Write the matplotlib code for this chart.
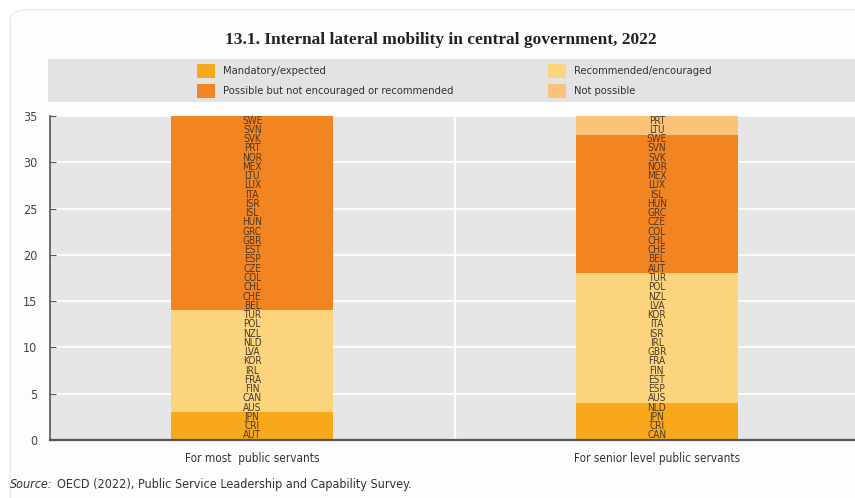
import matplotlib.pyplot as plt
from matplotlib.patches import Rectangle, FancyBboxPatch

NARROW = ["DejaVu Sans"]

groups = ["For most  public servants", "For senior level public servants"]
categories = [
    "Mandatory/expected",
    "Recommended/encouraged",
    "Possible but not encouraged or recommended",
    "Not possible",
]
colors = ["#F7A81B", "#FDD47E", "#F28522", "#FBC27A"]

# countries in each category, bottom to top
most_mandatory = ["AUT", "CRI", "JPN"]
most_recommended = ["AUS", "CAN", "FIN", "FRA", "IRL", "KOR", "LVA", "NLD", "NZL", "POL", "TUR"]
most_possible = ["BEL", "CHE", "CHL", "COL", "CZE", "ESP", "EST", "GBR", "GRC", "HUN", "ISL",
                 "ISR", "ITA", "LUX", "LTU", "MEX", "NOR", "PRT", "SVK", "SVN", "SWE"]
most_not_possible = []

senior_mandatory = ["CAN", "CRI", "JPN", "NLD"]
senior_recommended = ["AUS", "ESP", "EST", "FIN", "FRA", "GBR", "IRL", "ISR", "ITA", "KOR",
                      "LVA", "NZL", "POL", "TUR"]
senior_possible = ["AUT", "BEL", "CHE", "CHL", "COL", "CZE", "GRC", "HUN", "ISL", "LUX",
                   "MEX", "NOR", "SVK", "SVN", "SWE"]
senior_not_possible = ["LTU", "PRT"]

stacks = [
    [most_mandatory, most_recommended, most_possible, most_not_possible],
    [senior_mandatory, senior_recommended, senior_possible, senior_not_possible],
]

fig = plt.figure(figsize=(8.55, 4.98), dpi=100)
fig.patch.set_facecolor("white")

# faint outer frame
frame = FancyBboxPatch((0.012, -0.05), 1.05, 1.03, boxstyle="round,pad=0,rounding_size=0.02",
                       transform=fig.transFigure, facecolor="#fdfdfd", edgecolor="#ececec",
                       linewidth=1.0, zorder=-10)
fig.patches.append(frame)

ax = fig.add_axes([0.0585, 0.1165, 0.9415, 0.6505])
ax.set_facecolor("#E6E6E6")

for gi, stack in enumerate(stacks):
    bottom = 0
    for ci, countries in enumerate(stack):
        n = len(countries)
        if n:
            ax.bar(gi, n, width=0.4, bottom=bottom, color=colors[ci], zorder=2)
            for k, code in enumerate(countries):
                ax.text(gi, bottom + k + 0.5, code, ha="center", va="center",
                        fontsize=7.2, family=NARROW, stretch="condensed",
                        color="#4a3a28", zorder=3)
        bottom += n

ax.set_xlim(-0.5, 1.49)
ax.set_ylim(0, 35)
ax.set_yticks(range(0, 36, 5))
ax.set_xticks([0, 1])
ax.set_xticklabels(groups, family=NARROW, stretch="condensed", fontsize=8.5, color="#333333")
for lab in ax.get_yticklabels():
    lab.set_family(NARROW)
    lab.set_stretch("condensed")
    lab.set_fontsize(9)
    lab.set_color("#444444")
ax.tick_params(axis="y", direction="in", length=4, color="#555555", pad=9)
ax.tick_params(axis="x", length=0, pad=9)
ax.grid(axis="y", color="white", linewidth=1.2, zorder=1)
ax.axvline(0.5, color="white", linewidth=1.5, zorder=1)
ax.set_axisbelow(True)
for side in ["top", "right"]:
    ax.spines[side].set_visible(False)
ax.spines["left"].set_color("#555555")
ax.spines["left"].set_linewidth(1.2)
ax.spines["bottom"].set_color("#555555")
ax.spines["bottom"].set_linewidth(1.6)
ax.spines["bottom"].set_zorder(4)

# legend band
band = Rectangle((48 / 855, 1 - 102 / 498), 1 - 48 / 855, 43 / 498,
                 transform=fig.transFigure, facecolor="#E3E3E3", edgecolor="none")
fig.patches.append(band)
legend_pos = [(197, 71), (548, 71), (197, 91), (548, 91)]
for (px, py), label, c in zip(legend_pos, categories, colors):
    fig.patches.append(Rectangle((px / 855, 1 - (py + 7) / 498), 18 / 855, 14 / 498,
                                 transform=fig.transFigure, facecolor=c, edgecolor="none"))
    fig.text((px + 26) / 855, 1 - py / 498, label, ha="left", va="center",
             family=NARROW, stretch="condensed", fontsize=8, color="#333333")

fig.text(441 / 855, 1 - 40 / 498, "13.1. Internal lateral mobility in central government, 2022",
         ha="center", va="center", family=["Liberation Serif", "DejaVu Serif"],
         fontsize=12.5, fontweight="bold", color="#222222")

src = fig.text(10 / 855, 1 - 484 / 498, "Source:", ha="left", va="center", family=NARROW,
               stretch="condensed", fontsize=9, style="italic", color="#333333")
fig.canvas.draw()
bb = src.get_window_extent()
fig.text((bb.x1 + 4) / 855, 1 - 484 / 498,
         "OECD (2022), Public Service Leadership and Capability Survey.",
         ha="left", va="center", family=NARROW, stretch="condensed", fontsize=9,
         color="#333333")

fig.savefig("out.png", dpi=100)
